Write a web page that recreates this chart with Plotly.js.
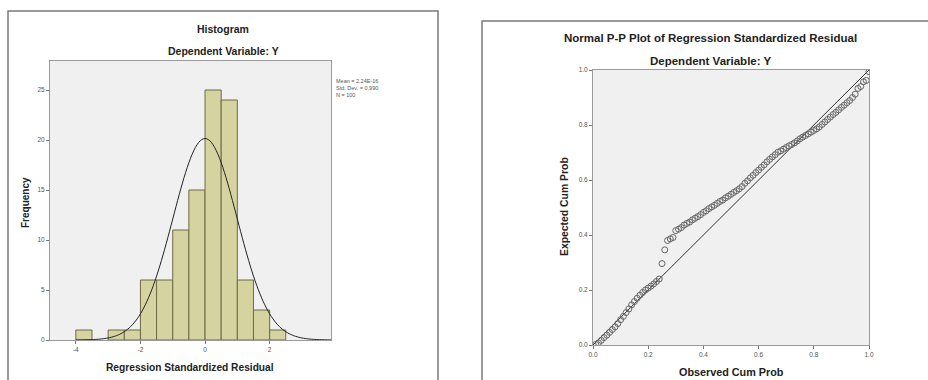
<!DOCTYPE html>
<html>
<head>
<meta charset="utf-8">
<script src="https://cdn.plot.ly/plotly-3.0.1.min.js"></script>
<style>html,body{margin:0;padding:0;background:#fff;}#chart{width:928px;height:380px;}</style>
</head>
<body>
<div id="chart"></div>
<script>
// ---- Histogram data ----
const binCenters = [-3.75, -2.75, -2.25, -1.75, -1.25, -0.75, -0.25, 0.25, 0.75, 1.25, 1.75, 2.25];
const binCounts  = [1, 1, 1, 6, 6, 11, 15, 25, 24, 6, 3, 1];
const binWidth = 0.5;
const residMean = 0.0;
const residSD = 0.990;
const residN = 100;
const statsLines = ["Mean = 2.24E-16", "Std. Dev. = 0.990", "N = 100"];
const histXTicks = [-4, -2, 0, 2];
const histYTicks = [0, 5, 10, 15, 20, 25];

// ---- P-P plot data (expected cum prob for each sorted residual) ----
const expectedCumProb = [
  0.002, 0.008, 0.017, 0.027, 0.036, 0.046, 0.056, 0.066, 0.078, 0.092,
  0.104, 0.118, 0.131, 0.146, 0.158, 0.170, 0.181, 0.191, 0.200, 0.207,
  0.214, 0.222, 0.231, 0.240, 0.296, 0.346, 0.380, 0.386, 0.391, 0.416,
  0.421, 0.427, 0.436, 0.442, 0.447, 0.455, 0.461, 0.467, 0.474, 0.482,
  0.488, 0.496, 0.502, 0.508, 0.515, 0.522, 0.527, 0.535, 0.541, 0.548,
  0.555, 0.561, 0.568, 0.576, 0.588, 0.597, 0.608, 0.617, 0.627, 0.636,
  0.646, 0.655, 0.666, 0.675, 0.684, 0.692, 0.701, 0.706, 0.712, 0.718,
  0.724, 0.729, 0.735, 0.742, 0.750, 0.756, 0.762, 0.768, 0.774, 0.780,
  0.786, 0.793, 0.802, 0.811, 0.820, 0.829, 0.838, 0.846, 0.855, 0.864,
  0.872, 0.881, 0.889, 0.900, 0.912, 0.933, 0.940, 0.957, 0.962, 0.994
];
const observedCumProb = expectedCumProb.map((_, i) => (i + 1) / expectedCumProb.length);
const ppTicks = [0, 0.2, 0.4, 0.6, 0.8, 1.0];
const diagLine = [0, 1];

// ---- helpers: pixel -> paper ----
const W = 928, H = 380;
const px = v => v / W;
const py = v => 1 - v / H;

// normal curve from the stated mean / sd / N
const curveX = [], curveY = [];
for (let x = -4.0; x <= 3.9001; x += 0.05) {
  curveX.push(x);
  const z = (x - residMean) / residSD;
  curveY.push(residN * binWidth * Math.exp(-0.5 * z * z) / (residSD * Math.sqrt(2 * Math.PI)));
}

const FONT = "Liberation Sans, Arial, sans-serif";

const traces = [
  {
    type: 'bar', x: binCenters, y: binCounts, width: binWidth,
    marker: {color: '#d5d4a0', line: {color: '#6b6a45', width: 1}},
    xaxis: 'x', yaxis: 'y', hoverinfo: 'x+y', showlegend: false
  },
  {
    type: 'scatter', mode: 'lines', x: curveX, y: curveY,
    line: {color: '#222', width: 1, shape: 'spline'},
    xaxis: 'x', yaxis: 'y', showlegend: false
  },
  {
    type: 'scatter', mode: 'lines', x: diagLine, y: diagLine,
    line: {color: '#333', width: 1},
    xaxis: 'x2', yaxis: 'y2', showlegend: false
  },
  {
    type: 'scatter', mode: 'markers', x: observedCumProb, y: expectedCumProb,
    marker: {symbol: 'circle-open', size: 6, color: '#666', line: {width: 1, color: '#666'}},
    xaxis: 'x2', yaxis: 'y2', showlegend: false
  }
];

const axisCommon = {
  showgrid: false, zeroline: false, showline: true, mirror: true,
  linecolor: '#9a9a9a', linewidth: 1,
  ticks: 'outside', ticklen: 3, tickcolor: '#777',
  tickfont: {family: FONT, size: 6.5, color: '#555'}
};

const layout = {
  width: W, height: H,
  margin: {l: 0, r: 0, t: 0, b: 0},
  paper_bgcolor: '#ffffff',
  plot_bgcolor: '#f0f0f0',
  showlegend: false,
  xaxis: Object.assign({}, axisCommon, {
    domain: [px(50), px(331)], range: [-4.8, 3.9],
    tickvals: histXTicks, ticktext: histXTicks.map(String), anchor: 'y'
  }),
  yaxis: Object.assign({}, axisCommon, {
    domain: [py(340), py(61)], range: [0, 27.9],
    tickvals: histYTicks, ticktext: histYTicks.map(String), anchor: 'x'
  }),
  xaxis2: Object.assign({}, axisCommon, {
    domain: [px(593), px(869)], range: [0, 1],
    tickvals: ppTicks, tickformat: '.1f', anchor: 'y2'
  }),
  yaxis2: Object.assign({}, axisCommon, {
    domain: [py(345), py(70)], range: [0, 1],
    tickvals: ppTicks, tickformat: '.1f', anchor: 'x2'
  }),
  shapes: [
    {type: 'rect', xref: 'paper', yref: 'paper', x0: px(8), x1: px(438), y0: py(395), y1: py(11),
     line: {color: '#7a7a7a', width: 1.5}, fillcolor: 'rgba(0,0,0,0)', layer: 'below'},
    {type: 'rect', xref: 'paper', yref: 'paper', x0: px(482), x1: px(940), y0: py(395), y1: py(21),
     line: {color: '#7a7a7a', width: 1.5}, fillcolor: 'rgba(0,0,0,0)', layer: 'below'}
  ],
  annotations: [
    {text: '<b>Histogram</b>', x: px(223), y: py(29), xref: 'paper', yref: 'paper', showarrow: false,
     font: {family: FONT, size: 10.5, color: '#222'}, xanchor: 'center', yanchor: 'middle'},
    {text: '<b>Dependent Variable: Y</b>', x: px(223), y: py(51), xref: 'paper', yref: 'paper', showarrow: false,
     font: {family: FONT, size: 10.5, color: '#222'}, xanchor: 'center', yanchor: 'middle'},
    {text: '<b>Regression Standardized Residual</b>', x: px(190), y: py(367), xref: 'paper', yref: 'paper', showarrow: false,
     font: {family: FONT, size: 10.2, color: '#222'}, xanchor: 'center', yanchor: 'middle'},
    {text: '<b>Frequency</b>', x: px(25), y: py(203), xref: 'paper', yref: 'paper', showarrow: false, textangle: -90,
     font: {family: FONT, size: 10, color: '#222'}, xanchor: 'center', yanchor: 'middle'},
    {text: statsLines.join('<br>'), x: px(334), y: py(76), xref: 'paper', yref: 'paper', showarrow: false,
     align: 'left', font: {family: FONT, size: 5.5, color: '#555'}, xanchor: 'left', yanchor: 'top'},
    {text: '<b>Normal P-P Plot of Regression Standardized Residual</b>', x: px(710), y: py(38), xref: 'paper', yref: 'paper', showarrow: false,
     font: {family: FONT, size: 11.5, color: '#222'}, xanchor: 'center', yanchor: 'middle'},
    {text: '<b>Dependent Variable: Y</b>', x: px(711), y: py(61), xref: 'paper', yref: 'paper', showarrow: false,
     font: {family: FONT, size: 11.5, color: '#222'}, xanchor: 'center', yanchor: 'middle'},
    {text: '<b>Observed Cum Prob</b>', x: px(731), y: py(372), xref: 'paper', yref: 'paper', showarrow: false,
     font: {family: FONT, size: 10.8, color: '#222'}, xanchor: 'center', yanchor: 'middle'},
    {text: '<b>Expected Cum Prob</b>', x: px(564), y: py(207), xref: 'paper', yref: 'paper', showarrow: false, textangle: -90,
     font: {family: FONT, size: 10.4, color: '#222'}, xanchor: 'center', yanchor: 'middle'}
  ]
};

Plotly.newPlot('chart', traces, layout, {displayModeBar: false, staticPlot: true});
</script>
</body>
</html>
